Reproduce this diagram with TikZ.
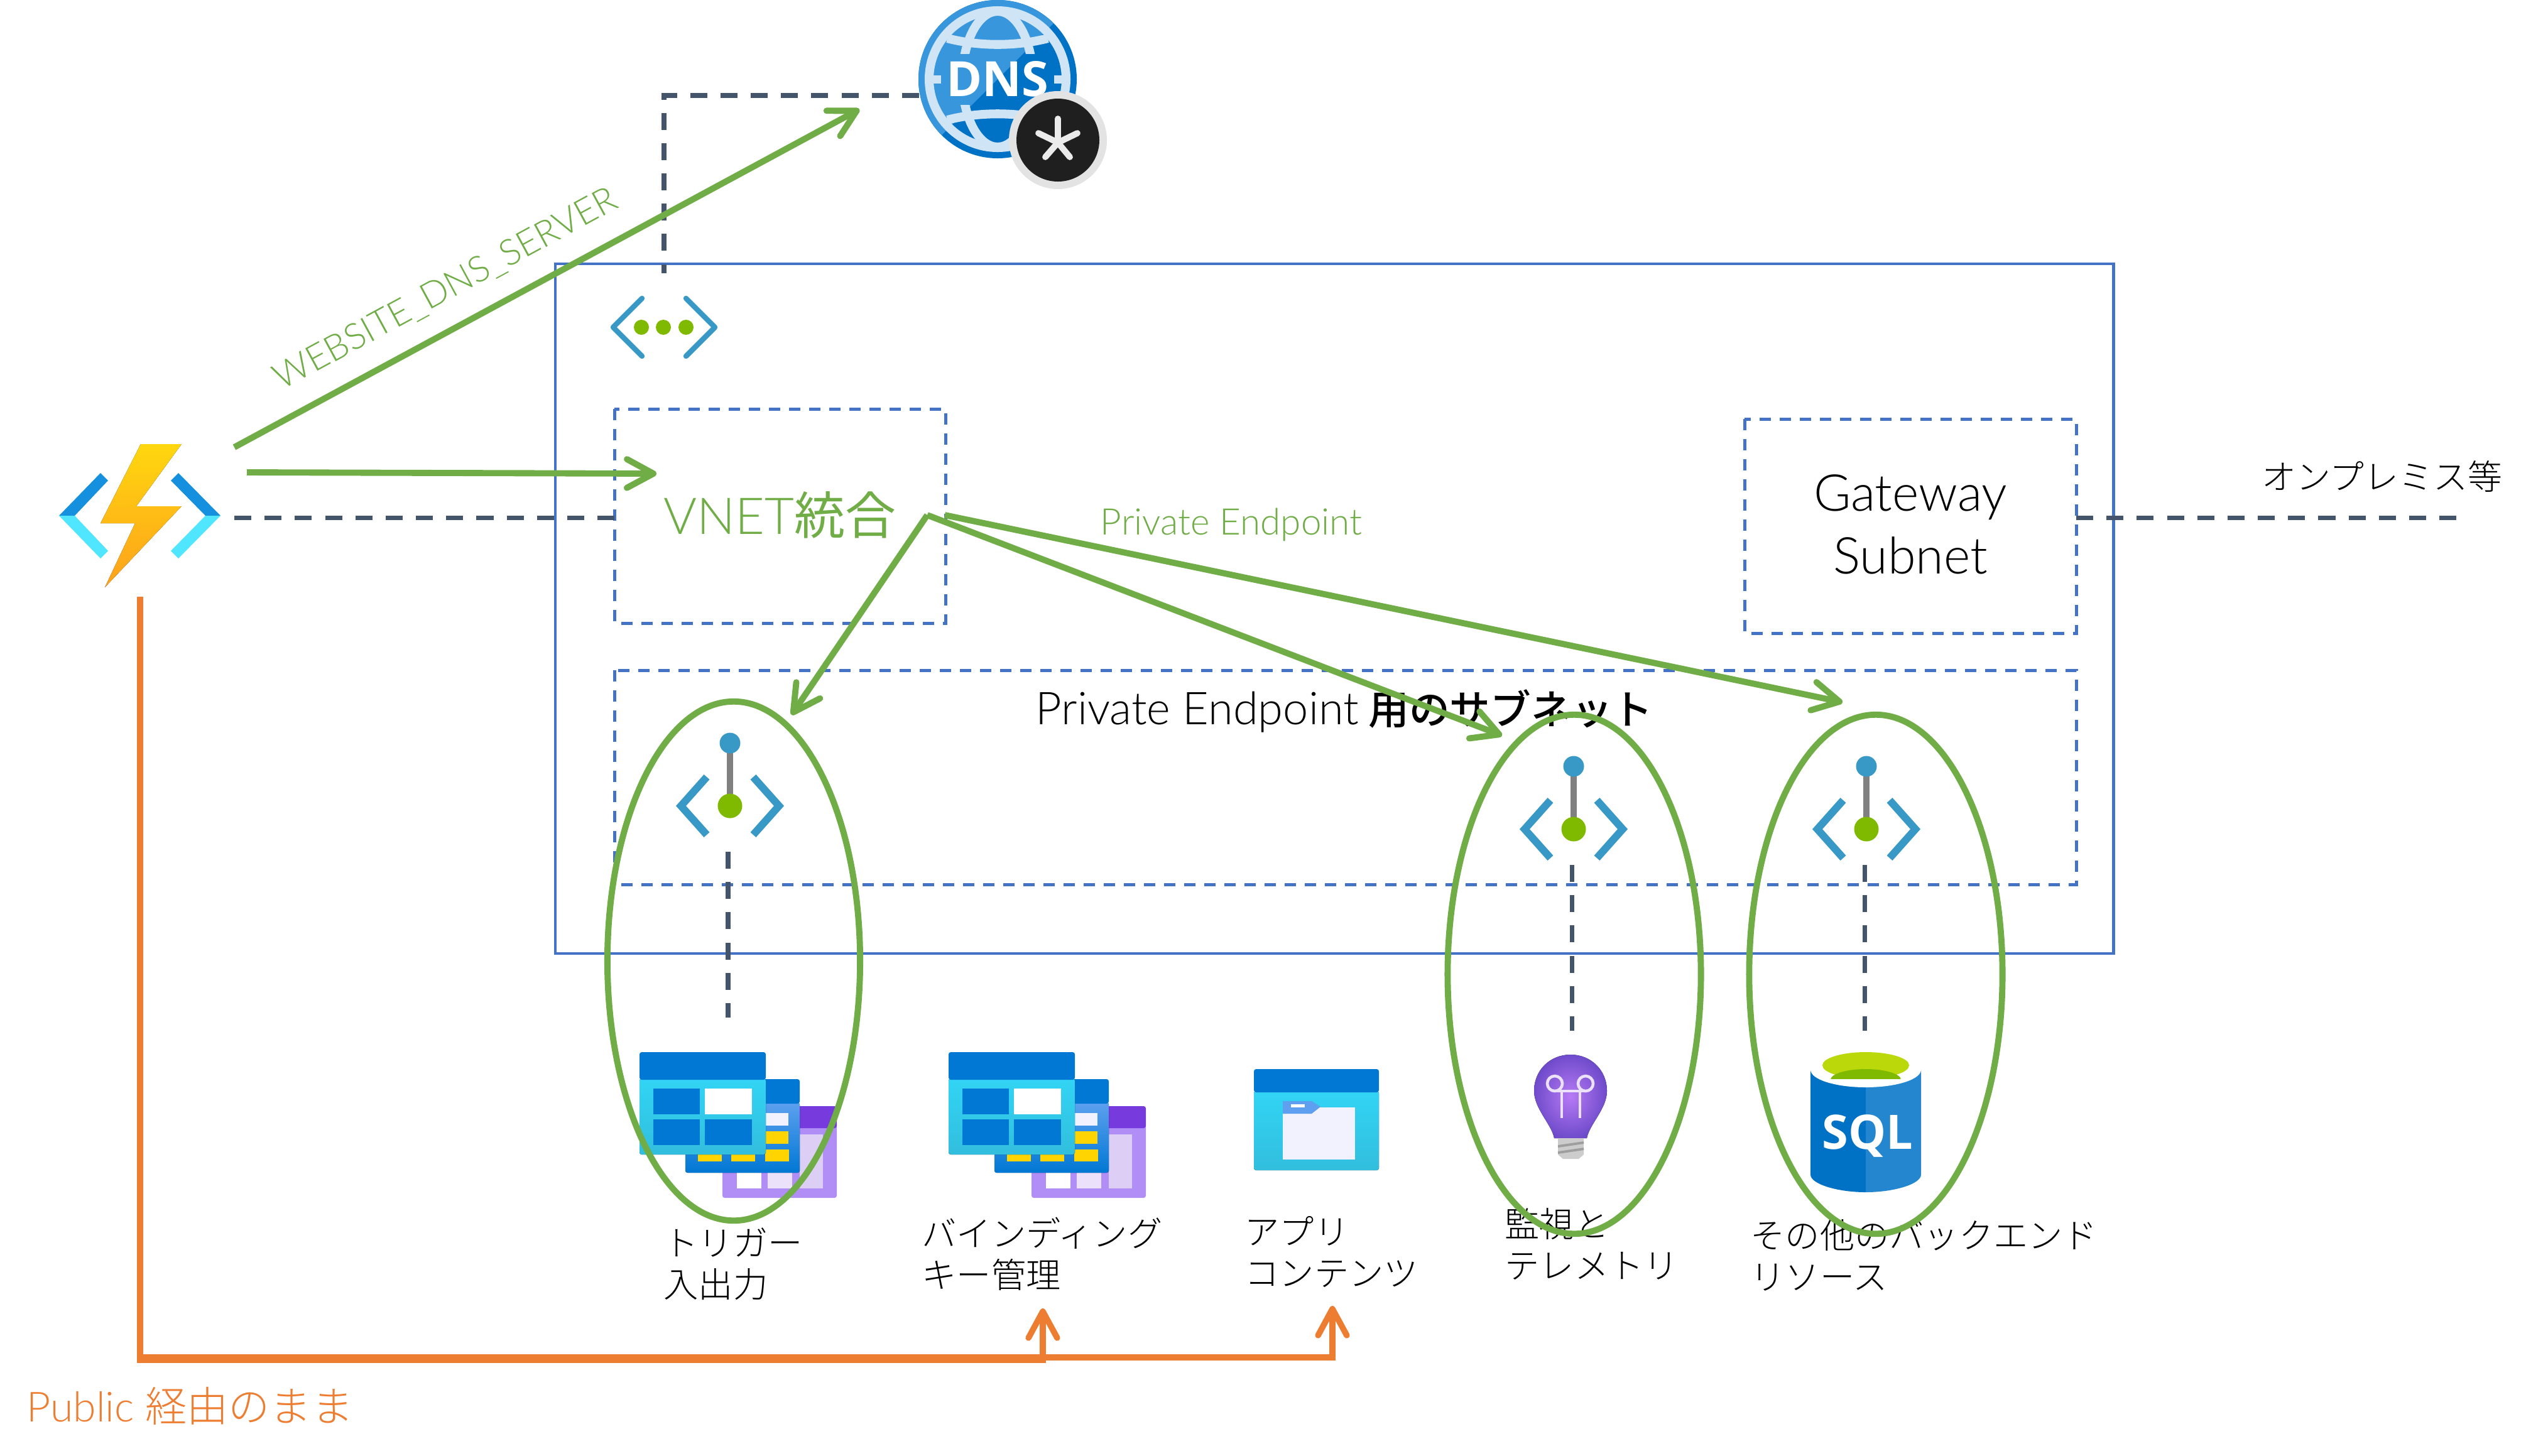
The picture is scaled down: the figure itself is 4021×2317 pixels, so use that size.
\documentclass[tikz,border=0pt]{standalone}
\usepackage{fontspec}
\usepackage{xcolor}
\usepackage{tikz}
\usetikzlibrary{arrows.meta, shapes.geometric}
\setmainfont{Lato Light}
\newfontfamily\latinfont{Lato Light}
\newfontfamily\iconfont{Open Sans}
\newfontfamily\jpfont{Noto Sans CJK JP Light}
\newfontfamily\jpreg{Noto Sans CJK JP}
\newfontfamily\jpmed{Noto Sans CJK JP Medium}

\definecolor{linkgreen}{HTML}{70AD47}
\definecolor{boxblue}{HTML}{4472C4}
\definecolor{darkslate}{HTML}{44546A}
\definecolor{puborange}{HTML}{ED7D31}
\definecolor{iconblue}{HTML}{3999C6}
\definecolor{dotgreen}{HTML}{7FBA00}
\definecolor{azure}{HTML}{0078D4}
\definecolor{cyantop}{HTML}{32D4F5}
\definecolor{cyanbot}{HTML}{32BEDD}
\definecolor{midblue}{HTML}{5EA0EF}
\definecolor{cellyellow}{HTML}{FFD400}
\definecolor{purphead}{HTML}{773ADC}
\definecolor{purpbody}{HTML}{B08EF6}
\definecolor{globeline}{HTML}{CFE4F5}
\definecolor{boltgold}{HTML}{FFD70F}
\definecolor{boltorange}{HTML}{FEA11B}
\definecolor{funcblue}{HTML}{1490DF}
\definecolor{funccyan}{HTML}{50E6FF}
\definecolor{sqlleft}{HTML}{0072C6}
\definecolor{sqlright}{HTML}{2586D0}
\definecolor{sqllime}{HTML}{BAD80A}
\definecolor{bulbedge}{HTML}{6F4BCB}
\definecolor{bulbglow}{HTML}{B77AF4}

\tikzset{
  vnetbox/.style={draw=boxblue, line width=1.42pt, dash pattern=on 5.1pt off 4pt},
  darkdash/.style={draw=darkslate, line width=2pt, dash pattern=on 7.7pt off 6pt},
  greenarrow/.style={draw=linkgreen, line width=2.8pt, -{Straight Barb[length=12pt,width=13pt,round]}},
  orangearrow/.style={draw=puborange, line width=2.7pt, -{Straight Barb[length=12pt,width=13pt,round]}},
  greenring/.style={draw=linkgreen, line width=2.8pt, ellipse, inner sep=0pt},
  jplabel/.style={anchor=west, align=left, inner sep=0pt, text=black,
    font=\jpfont\fontsize{15.7}{18.8}\selectfont},
  boxlabel/.style={inner sep=0pt, align=center},
}

\newcommand{\vneticon}[1]{
  \begin{scope}[shift={(#1)}]
    \draw[iconblue, line width=2.4pt, line cap=round, line join=round] (-34,-46) -- (-80,0) -- (-34,46);
    \draw[iconblue, line width=2.4pt, line cap=round, line join=round] (36,-46) -- (82,0) -- (36,46);
    \foreach \dotx in {-35,0,36} \fill[dotgreen] (\dotx,0) circle [radius=12];
  \end{scope}
}
\newcommand{\peicon}[1]{
  \begin{scope}[shift={(#1)}]
    \draw[gray, line width=3.1pt] (0,-100) -- (0,0);
    \fill[iconblue] (0,-100) circle [radius=16.5];
    \fill[dotgreen] (0,0) circle [radius=19.5];
    \draw[iconblue, line width=3.4pt, line join=miter] (-37,-46) -- (-78,0) -- (-37,46);
    \draw[iconblue, line width=3.4pt, line join=miter] (37,-46) -- (78,0) -- (37,46);
  \end{scope}
}
\newcommand{\tableicon}[1]{
  \begin{scope}[shift={(#1,0)}]
    \fill[purpbody, rounded corners=1pt] (1150,1790) rectangle (1332,1907);
    \fill[purphead, rounded corners=1pt] (1150,1761) rectangle (1332,1796);
    \fill[purphead!25!white] (1273,1806) rectangle (1310,1892);
    \fill[purphead!15!white] (1222,1840) rectangle (1261,1892);
    \fill[white] (1173,1840) rectangle (1212,1892);
    \fill[top color=midblue, bottom color=azure, rounded corners=1pt] (1091,1755) rectangle (1273,1867);
    \fill[azure, rounded corners=1pt] (1091,1718) rectangle (1273,1757);
    \fill[blue!5!white] (1218,1772) rectangle (1255,1792);
    \fill[cellyellow] (1218,1801) rectangle (1255,1821);
    \foreach \cellx in {1111,1164,1218} \fill[cellyellow] (\cellx,1830) rectangle (\cellx+38,1849);
    \fill[top color=cyantop, bottom color=cyanbot, rounded corners=1pt] (1018,1717) rectangle (1219,1838);
    \fill[azure, rounded corners=1pt] (1018,1675) rectangle (1219,1719);
    \fill[azure] (1040,1733) rectangle (1114,1774);
    \fill[white] (1122,1733) rectangle (1197,1774);
    \fill[azure] (1040,1782) rectangle (1114,1823);
    \fill[azure] (1122,1782) rectangle (1197,1823);
  \end{scope}
}

\begin{document}
\begin{tikzpicture}[x=0.01cm, y=-0.01cm]
    \useasboundingbox (0,0) rectangle (4021,2317);

    \draw[boxblue, line width=1.4pt] (884,420) rectangle (3364,1518);
    \draw[vnetbox] (978,651) rectangle (1505,992);
    \draw[vnetbox] (2777,667) rectangle (3305,1008);
    \draw[vnetbox] (978,1067) rectangle (3305,1408);

    \node[boxlabel, text=linkgreen, anchor=west] (vnetint) at (1056,820) {\fontsize{23}{28}\selectfont{\latinfont VNET}{\jpreg 統合}};
    \node[boxlabel, anchor=center, font=\latinfont\fontsize{23}{28.4}\selectfont] (gateway) at (3041,835) {Gateway\\Subnet};
    \node[boxlabel, anchor=west] (pesubnet) at (1648,1132) {{\latinfont\fontsize{20.5}{24}\selectfont Private Endpoint}\hspace{4.5pt}{\jpmed\fontsize{18.4}{24}\selectfont 用のサブネット}};
    \node[boxlabel, text=linkgreen] (pelabel) at (1960,835) {\latinfont\fontsize{16.6}{20}\selectfont Private Endpoint};
    \node[boxlabel, text=linkgreen, rotate=28.5] (dnslabel) at (710,461) {\latinfont\fontsize{16.3}{18}\selectfont WEBSITE\_DNS\_SERVER};
    \node[boxlabel, anchor=west] (onprem) at (3600,759) {\jpfont\fontsize{15.6}{18}\selectfont オンプレミス等};
    \node[boxlabel, text=puborange, anchor=west] (public) at (42,2238) {\fontsize{18.8}{22}\selectfont{\latinfont Public} {\jpfont 経由のまま}};

    \node[jplabel] (trigger) at (1056,2012) {トリガー\\入出力};
    \node[jplabel] (binding) at (1467,1996) {バインディング\\キー管理};
    \node[jplabel] (appcontent) at (1981,1993) {アプリ\\コンテンツ};
    \node[jplabel] (monitor) at (2395,1980) {監視と\\テレメトリ};
    \node[jplabel] (backend) at (2786,1998) {その他のバックエンド\\リソース};

    % function app
    \fill[top color=boltgold, bottom color=boltorange] (224,707) -- (289,707) -- (217,806) -- (289,806) -- (167,935) -- (215,833) -- (160,833) -- cycle;
    \fill[funcblue] (160,753) -- (94,821) -- (119,821) -- (172,765) -- cycle;
    \fill[funccyan] (94,821) -- (160,889) -- (172,877) -- (119,821) -- cycle;
    \fill[funcblue] (284,753) -- (351,821) -- (327,821) -- (272,765) -- cycle;
    \fill[funccyan] (351,821) -- (284,889) -- (272,877) -- (327,821) -- cycle;

    % dns zone
    \begin{scope}[shift={(1588,126)}]
        \fill[sqlleft] (0,0) circle [radius=126];
        \begin{scope}
            \clip (0,0) circle [radius=126];
            \fill[azure!78!white] (-130,130) -- (130,-130) -- (-130,-130) -- cycle;
        \end{scope}
        \draw[globeline, line width=4pt] (0,0) circle [radius=109];
        \begin{scope}
            \clip (-110,-110) rectangle (110,-41);
            \draw[globeline, line width=4pt] (0,0) ellipse [x radius=56, y radius=108];
            \draw[globeline, line width=4pt] (-80,-65) .. controls (-30,-52) and (30,-52) .. (80,-65);
        \end{scope}
        \begin{scope}
            \clip (-110,41) rectangle (110,110);
            \draw[globeline, line width=4pt] (0,0) ellipse [x radius=56, y radius=108];
            \draw[globeline, line width=4pt] (-80,65) .. controls (-30,52) and (30,52) .. (80,65);
        \end{scope}
        \draw[globeline, line width=3.7pt] (-102,0) -- (-90,0);
        \draw[globeline, line width=3.7pt] (90,0) -- (102,0);
        \node[inner sep=0pt, text=white] (dnstext) at (0,0) {\iconfont\bfseries\fontsize{22}{26}\selectfont DNS};
        \begin{scope}[shift={(96,97)}]
            \fill[black!11] (0,0) circle [radius=78];
            \fill[black!88] (0,0) circle [radius=66];
            \foreach \tipx/\tipy in {0/-34,31/-11,-31/-11,19/27,-20/27}
                \draw[black!8, line width=2.8pt, line cap=round] (0,4) -- (\tipx,\tipy);
        \end{scope}
    \end{scope}

    \vneticon{1056,521}
    \peicon{1162,1283}
    \peicon{2505,1320}
    \peicon{2971,1320}

    \tableicon{0}
    \tableicon{492}

    % app content
    \fill[top color=cyantop, bottom color=cyanbot, rounded corners=1pt] (1996,1737) rectangle (2195,1863);
    \fill[azure, rounded corners=1pt] (1996,1702) rectangle (2195,1739);
    \fill[blue!5!white] (2042,1763) rectangle (2157,1846);
    \fill[midblue] (2042,1753) -- (2088,1753) -- (2102,1762) -- (2088,1773) -- (2042,1773) -- cycle;
    \fill[white] (2055,1758) rectangle (2077,1763);

    % application insights
    \fill[inner color=bulbglow, outer color=bulbedge] (2474,1812) .. controls (2470,1790) and (2442,1765) .. (2442,1737) .. controls (2442,1703) and (2468,1679) .. (2500,1679) .. controls (2532,1679) and (2558,1703) .. (2558,1737) .. controls (2558,1765) and (2530,1790) .. (2526,1812) -- cycle;
    \fill[black!20] (2480,1812) -- (2521,1812) -- (2521,1838) -- (2513,1845) -- (2488,1845) -- (2480,1838) -- cycle;
    \draw[black!38, line width=1.1pt] (2480,1825) -- (2521,1819);
    \draw[black!38, line width=1.1pt] (2480,1835) -- (2521,1829);
    \draw[purphead!15!white, line width=1.3pt] (2486,1737) -- (2486,1780);
    \draw[purphead!15!white, line width=1.3pt] (2515,1737) -- (2515,1780);
    \draw[purphead!15!white, line width=1.3pt] (2475,1725) circle [radius=12];
    \draw[purphead!15!white, line width=1.3pt] (2524,1725) circle [radius=12];
    \draw[purphead!15!white, line width=1.3pt] (2475,1737) -- (2524,1737);

    % sql database
    \fill[sqlleft] (2882,1703) -- (2882,1870) .. controls (2882,1885) and (2925,1898) .. (2970,1898) -- (2970,1703) -- cycle;
    \fill[sqlright] (3058,1703) -- (3058,1870) .. controls (3058,1885) and (3015,1898) .. (2970,1898) -- (2970,1703) -- cycle;
    \fill[white] (2970,1703) ellipse [x radius=88, y radius=28];
    \fill[sqllime] (2970,1696) ellipse [x radius=69, y radius=21];
    \begin{scope}
        \clip (2901,1675) rectangle (3039,1717);
        \fill[dotgreen] (2970,1719) ellipse [x radius=56, y radius=17];
    \end{scope}
    \node[inner sep=0pt, text=white] (sqltext) at (2973,1808) {\iconfont\bfseries\fontsize{21.5}{25}\selectfont SQL};

    \coordinate (dnsleft) at (1463,152);
    \coordinate (dnscorner) at (1057,152);
    \coordinate (vnettop) at (1057,435);
    \coordinate (funcright) at (373,824);
    \coordinate (vnetleft) at (978,824);
    \coordinate (gwright) at (3305,824);
    \coordinate (onpremend) at (3915,824);
    \coordinate (pea) at (1159,1356);
    \coordinate (storea) at (1159,1620);
    \coordinate (peb) at (2502,1377);
    \coordinate (insight) at (2502,1641);
    \coordinate (pec) at (2968,1377);
    \coordinate (sqltop) at (2968,1641);

    \draw[darkdash] (dnsleft) -- (dnscorner) -- (vnettop);
    \draw[darkdash] (funcright) -- (vnetleft);
    \draw[darkdash] (gwright) -- (onpremend);
    \draw[darkdash] (pea) -- (storea);
    \draw[darkdash] (peb) -- (insight);
    \draw[darkdash] (pec) -- (sqltop);

    \node[greenring, minimum width=4.02cm, minimum height=8.26cm] (ringa) at (1168,1530) {};
    \node[greenring, minimum width=4.03cm, minimum height=8.26cm] (ringb) at (2506,1551) {};
    \node[greenring, minimum width=4.03cm, minimum height=8.26cm] (ringc) at (2986,1551) {};

    \coordinate (funcup) at (373,712);
    \coordinate (dnsarrow) at (1368,174);
    \coordinate (funcmid) at (393,752);
    \coordinate (vnetarrow) at (1045,754);
    \coordinate (forka) at (1476,820);
    \coordinate (forkb) at (1504,820);
    \coordinate (ringatop) at (1260,1138);
    \coordinate (ringbtop) at (2391,1171);
    \coordinate (ringctop) at (2933,1118);

    \draw[greenarrow] (funcup) -- (dnsarrow);
    \draw[greenarrow] (funcmid) -- (vnetarrow);
    \draw[greenarrow] (forka) -- (ringatop);
    \draw[greenarrow] (forka) -- (ringbtop);
    \draw[greenarrow] (forkb) -- (ringctop);

    \coordinate (funcdown) at (223,950);
    \coordinate (pubcorner) at (223,2165);
    \coordinate (bindfoot) at (1660,2165);
    \coordinate (bindarrow) at (1660,2083);
    \coordinate (pubcornerb) at (223,2161);
    \coordinate (appfoot) at (2121,2161);
    \coordinate (apparrow) at (2121,2079);

    \draw[orangearrow] (funcdown) -- (pubcorner) -- (bindfoot) -- (bindarrow);
    \draw[orangearrow] (funcdown) -- (pubcornerb) -- (appfoot) -- (apparrow);
\end{tikzpicture}
\end{document}
